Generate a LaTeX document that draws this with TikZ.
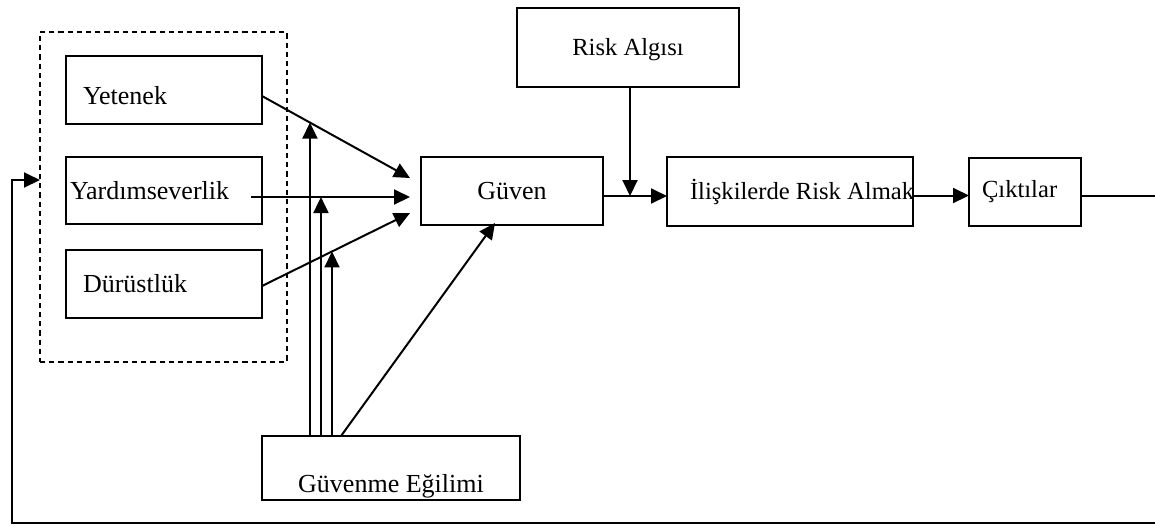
\documentclass[tikz,border=0pt]{standalone}
\usepackage{fontspec}
\setmainfont{Liberation Serif}
\usetikzlibrary{arrows.meta,calc}

\begin{document}
\begin{tikzpicture}[
  x=0.5pt, y=-0.5pt,
  every node/.style={font=\fontsize{13pt}{15pt}\selectfont},
  box/.style={draw, line width=0.8pt, inner ysep=0pt, outer sep=0pt},
  small/.style={font=\fontsize{12.3pt}{15pt}\selectfont},
  group/.style={draw, dashed, dash pattern=on 2.6pt off 2pt, line width=0.7pt, outer sep=0pt},
  conn/.style={line width=1pt},
  arr/.style={conn, -{Triangle[length=8pt,width=7.5pt]}}
]
\useasboundingbox (0,0) rectangle (1155,526);

% dashed group around the three trust factors
\node[group, minimum width=123.5pt, minimum height=165pt] (grp) at (163.5,197) {};

% trust factors
\node[box, minimum width=98pt, minimum height=34pt, inner xsep=8.5pt, text height=24pt, text depth=10pt] (yet) at (164,90)
  {\makebox[81pt][l]{Yetenek}};
\node[box, minimum width=98pt, minimum height=33.5pt, inner xsep=2pt] (yard) at (164,190.5)
  {\makebox[94pt][l]{Yardımseverlik}};
\node[box, minimum width=98pt, minimum height=34pt, inner xsep=8.5pt] (dur) at (164,284)
  {\makebox[81pt][l]{Dürüstlük}};

% main chain
\node[box, minimum width=91pt, minimum height=34pt] (guven) at (512,191) {Güven};
\node[box, small, minimum width=111pt, minimum height=39.5pt, text height=23.5pt, text depth=16pt] (risk) at (628,47.5) {Risk Algısı};
\node[box, small, minimum width=123pt, minimum height=34.5pt, inner xsep=11.5pt] (iliski) at (790,191.5)
  {\makebox[100pt][l]{İlişkilerde Risk Almak}};
\node[box, small, minimum width=56pt, minimum height=34pt, inner xsep=6.5pt] (cikti) at (1025,192)
  {\makebox[43pt][l]{Çıktılar}};

% propensity to trust
\node[box, minimum width=129pt, minimum height=32pt, text height=28pt, text depth=4pt] (egilim) at (391,468)
  {Güvenme Eğilimi};

% factors -> trust
\coordinate (ys) at ([yshift=-3pt]yet.east);
\coordinate (yds) at ([xshift=-5.5pt,yshift=-3.25pt]yard.east);
\coordinate (ds) at ([yshift=-1pt]dur.east);
\coordinate (t1) at ([xshift=-5.5pt,yshift=6.5pt]guven.west);
\coordinate (t2) at ([xshift=-5.5pt,yshift=-3pt]guven.west);
\coordinate (t3) at ([xshift=-5.5pt,yshift=-11pt]guven.west);
\draw[arr] (ys) -- (t1);
\draw[arr] (yds) -- (t2);
\draw[arr] (ds) -- (t3);

% propensity moderating each factor link
\coordinate (p1) at ($(ys)!0.324!(t1)$);
\coordinate (p2) at ($(yds)!0.44!(t2)$);
\coordinate (p3) at ($(ds)!0.473!(t3)$);
\draw[arr] (p1 |- egilim.north) -- (p1);
\draw[arr] (p2 |- egilim.north) -- (p2);
\draw[arr] (p3 |- egilim.north) -- (p3);
\draw[arr] ([xshift=39.5pt]egilim.north west) -- ([xshift=-8.5pt,yshift=1pt]guven.south);

% trust -> risk taking -> outcomes
\coordinate (ge) at ([yshift=-2.5pt]guven.east);
\draw[arr] (ge) -- (ge -| iliski.west);
\draw[arr] ([xshift=1pt]risk.south) -- ([xshift=1pt]risk.south |- ge);
\coordinate (ie) at ([yshift=-2pt]iliski.east);
\draw[arr] (ie) -- (ie -| cikti.west);

% feedback loop
\coordinate (r1) at (1155,196);
\coordinate (r2) at (1155,523);
\coordinate (c1) at (12,523);
\coordinate (fb) at ([yshift=8.5pt]grp.west);
\draw[conn] (cikti.east |- r1) -- (r1);
\draw[arr] (r2) -- (c1) |- (fb);
\end{tikzpicture}
\end{document}
